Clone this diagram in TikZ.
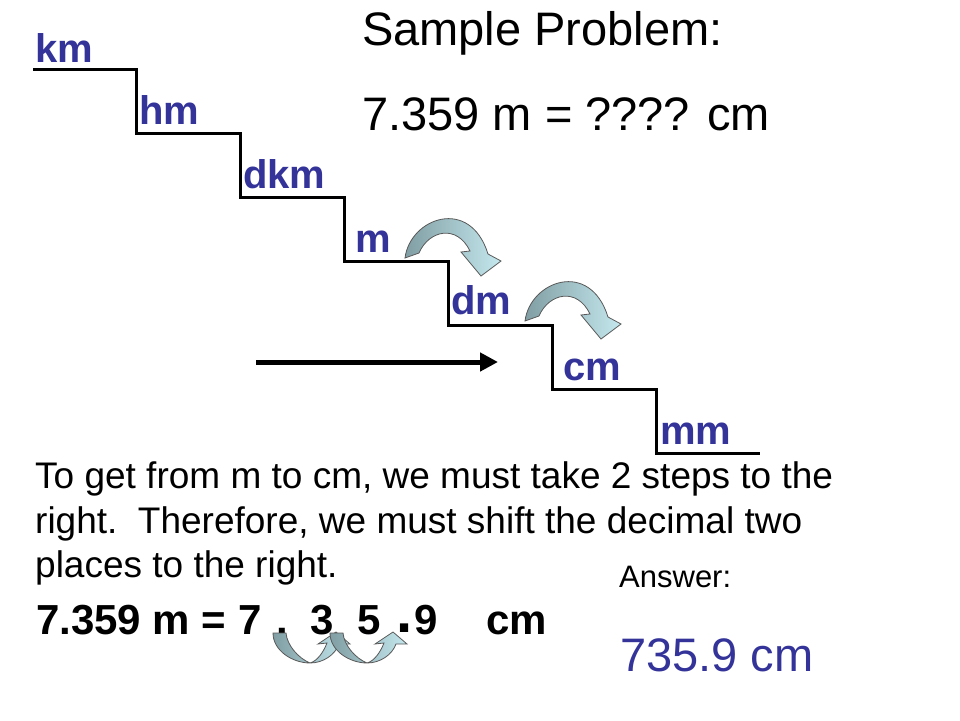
\documentclass[tikz,border=0pt]{standalone}
\usepackage{fontspec}
\setmainfont{Liberation Sans}
\usetikzlibrary{arrows.meta}

\definecolor{unitblue}{RGB}{51,51,153}
\definecolor{hopdark}{RGB}{128,158,163}
\definecolor{hoplight}{RGB}{196,232,238}

\tikzset{
  plain/.style={anchor=base west, inner sep=0pt},
  unit/.style={plain, text=unitblue, font=\fontsize{40}{48}\selectfont\bfseries},
  hop/.style={draw=black!65, line width=0.8pt, left color=hopdark, right color=hoplight},
  hopover/.pic={
    \path[hop] (0,0) .. controls (5,-40) and (65,-62) .. (83,-4) -- (96,3) -- (76,18)
      -- (56,-6) -- (65,-7) .. controls (52,-34) and (24,-28) .. (14,-5) -- cycle;
  },
  hopunder/.pic={
    \path[hop] (0,0) .. controls (0,18) and (20,30) .. (37,30)
      .. controls (50,30) and (62,22) .. (66,11) -- (77,11) -- (63,-1) -- (45,11) -- (54,10)
      .. controls (50,20) and (44,28) .. (37,30) .. controls (25,25) and (14,12) .. (13,0) -- cycle;
  }
}

\begin{document}
\begin{tikzpicture}[x=1pt, y=-1pt]
  \useasboundingbox (0,0) rectangle (960,720);

  \node[plain, font=\fontsize{47}{56}\selectfont] (title) at (362,45) {Sample Problem:};
  \node[plain, font=\fontsize{47}{56}\selectfont] (question) at (362,130) {7.359 m = ???? cm};

  % the staircase
  \draw[line width=3pt] (33,69) -- (136,69) -- (136,133) -- (240,133) -- (240,197)
    -- (344,197) -- (344,261) -- (448,261) -- (448,325) -- (552,325) -- (552,389)
    -- (656,389) -- (656,453) -- (760,453);
    \node[unit] (km) at (35,62) {km};
    \node[unit] (hm) at (139,124) {hm};
    \node[unit] (dkm) at (243,188) {dkm};
    \node[unit] (m) at (355,252) {m};
    \node[unit] (dm) at (451,314) {dm};
    \node[unit] (cm) at (563,380) {cm};
    \node[unit] (mm) at (660,444) {mm};

  \pic at (405,258) {hopover};
  \pic at (525,321) {hopover};

  \coordinate (from) at (256,362);
  \coordinate (to) at (498,362);
  \draw[line width=5pt, -{Triangle[length=18pt,width=18pt]}] (from) -- (to);

  % explanation
  \node[plain, font=\fontsize{37}{44}\selectfont] (explainA) at (35,488) {To get from m to cm, we must take 2 steps to the};
  \node[plain, font=\fontsize{37}{44}\selectfont] (explainB) at (35,533) {right.\ \ Therefore, we must shift the decimal two};
  \node[plain, font=\fontsize{37}{44}\selectfont] (explainC) at (35,577) {places to the right.};

  \node[plain, font=\fontsize{31}{38}\selectfont] (answerhead) at (619,587) {Answer:};
  \node[plain, font=\fontsize{47}{56}\selectfont, text=unitblue] (answer) at (620,671) {735.9 cm};

  % worked line
  \node[plain, font=\fontsize{42}{50}\selectfont\bfseries] (worked) at (36,634) {7.359 m = 7};
    \node[plain, font=\fontsize{42}{50}\selectfont\bfseries] (dotold) at (276,634) {.};
    \node[plain, font=\fontsize{42}{50}\selectfont\bfseries] (three) at (310,634) {3};
    \node[plain, font=\fontsize{42}{50}\selectfont\bfseries] (five) at (357,634) {5};
    \node[plain, font=\fontsize{58}{66}\selectfont\bfseries] (dotnew) at (396,632) {.};
    \node[plain, font=\fontsize{42}{50}\selectfont\bfseries] (nine) at (414,634) {9};
    \node[plain, font=\fontsize{42}{50}\selectfont\bfseries] (unitcm) at (486,634) {cm};

  \pic at (273,633) {hopunder};
  \pic at (330,633) {hopunder};
\end{tikzpicture}
\end{document}
